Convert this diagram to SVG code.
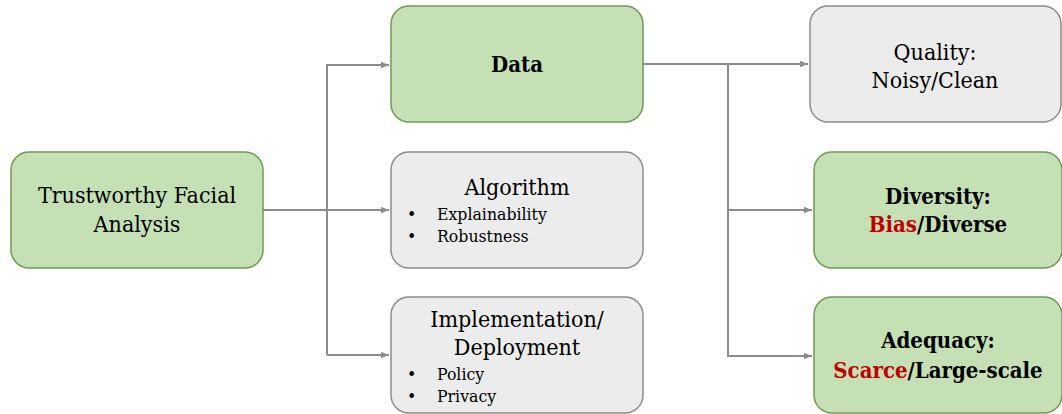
<svg xmlns="http://www.w3.org/2000/svg" width="1062" height="414" viewBox="0 0 1062 414">
  <defs>
    <marker id="arrow" viewBox="0 0 10 10" refX="10" refY="5" markerWidth="4" markerHeight="4" orient="auto" markerUnits="strokeWidth">
      <path d="M0,1 L10,5 L0,9 z" fill="#8c8c8c"/>
    </marker>
    <style>
      .green { fill: #c5e0b4; stroke: #6f9a53; stroke-width: 1.5; }
      .gray { fill: #ececec; stroke: #8c8c8c; stroke-width: 1.5; }
      .link { fill: none; stroke: #8c8c8c; stroke-width: 2; }
      text { font-family: "DejaVu Serif Condensed", "DejaVu Serif", serif; fill: #000; }
      .t { font-size: 23px; text-anchor: middle; }
      .b { font-size: 22px; font-weight: bold; text-anchor: middle; }
      .li { font-size: 17.5px; }
      .red { fill: #c00000; }
    </style>
  </defs>

  <!-- connectors -->
  <g id="connectors">
    <path class="link" d="M263,210 H389" marker-end="url(#arrow)"/>
    <path class="link" d="M327,355 V65 H389" marker-end="url(#arrow)"/>
    <path class="link" d="M327,355 H389" marker-end="url(#arrow)"/>
    <path class="link" d="M643,64 H808" marker-end="url(#arrow)"/>
    <path class="link" d="M728,64 V356 H812" marker-end="url(#arrow)"/>
    <path class="link" d="M728,210 H812" marker-end="url(#arrow)"/>
  </g>

  <!-- root -->
  <g id="trustworthy">
    <rect class="green" x="11" y="152" width="252" height="116" rx="18"/>
    <text class="t" x="137" y="203">Trustworthy Facial</text>
    <text class="t" x="137" y="232">Analysis</text>
  </g>

  <!-- middle column -->
  <g id="data">
    <rect class="green" x="391" y="6" width="252" height="116" rx="18"/>
    <text class="b" x="517" y="72">Data</text>
  </g>

  <g id="algorithm">
    <rect class="gray" x="391" y="152" width="252" height="116" rx="18"/>
    <text class="t" x="517" y="195">Algorithm</text>
    <text class="li" x="407" y="220">•</text>
    <text class="li" x="437" y="220">Explainability</text>
    <text class="li" x="407" y="242">•</text>
    <text class="li" x="437" y="242">Robustness</text>
  </g>

  <g id="implementation">
    <rect class="gray" x="391" y="297" width="252" height="116" rx="18"/>
    <text class="t" x="517" y="327">Implementation/</text>
    <text class="t" x="517" y="355">Deployment</text>
    <text class="li" x="407" y="380">•</text>
    <text class="li" x="437" y="380">Policy</text>
    <text class="li" x="407" y="402">•</text>
    <text class="li" x="437" y="402">Privacy</text>
  </g>

  <!-- right column -->
  <g id="quality">
    <rect class="gray" x="810" y="6" width="251" height="116" rx="18"/>
    <text class="t" x="935" y="60">Quality:</text>
    <text class="t" x="935" y="88">Noisy/Clean</text>
  </g>

  <g id="diversity">
    <rect class="green" x="814" y="152" width="248" height="116" rx="18"/>
    <text class="b" x="938" y="204">Diversity:</text>
    <text class="b" x="938" y="232"><tspan class="red">Bias</tspan>/Diverse</text>
  </g>

  <g id="adequacy">
    <rect class="green" x="814" y="297" width="248" height="116" rx="18"/>
    <text class="b" x="938" y="348">Adequacy:</text>
    <text class="b" x="938" y="378"><tspan class="red">Scarce</tspan>/Large-scale</text>
  </g>
</svg>
